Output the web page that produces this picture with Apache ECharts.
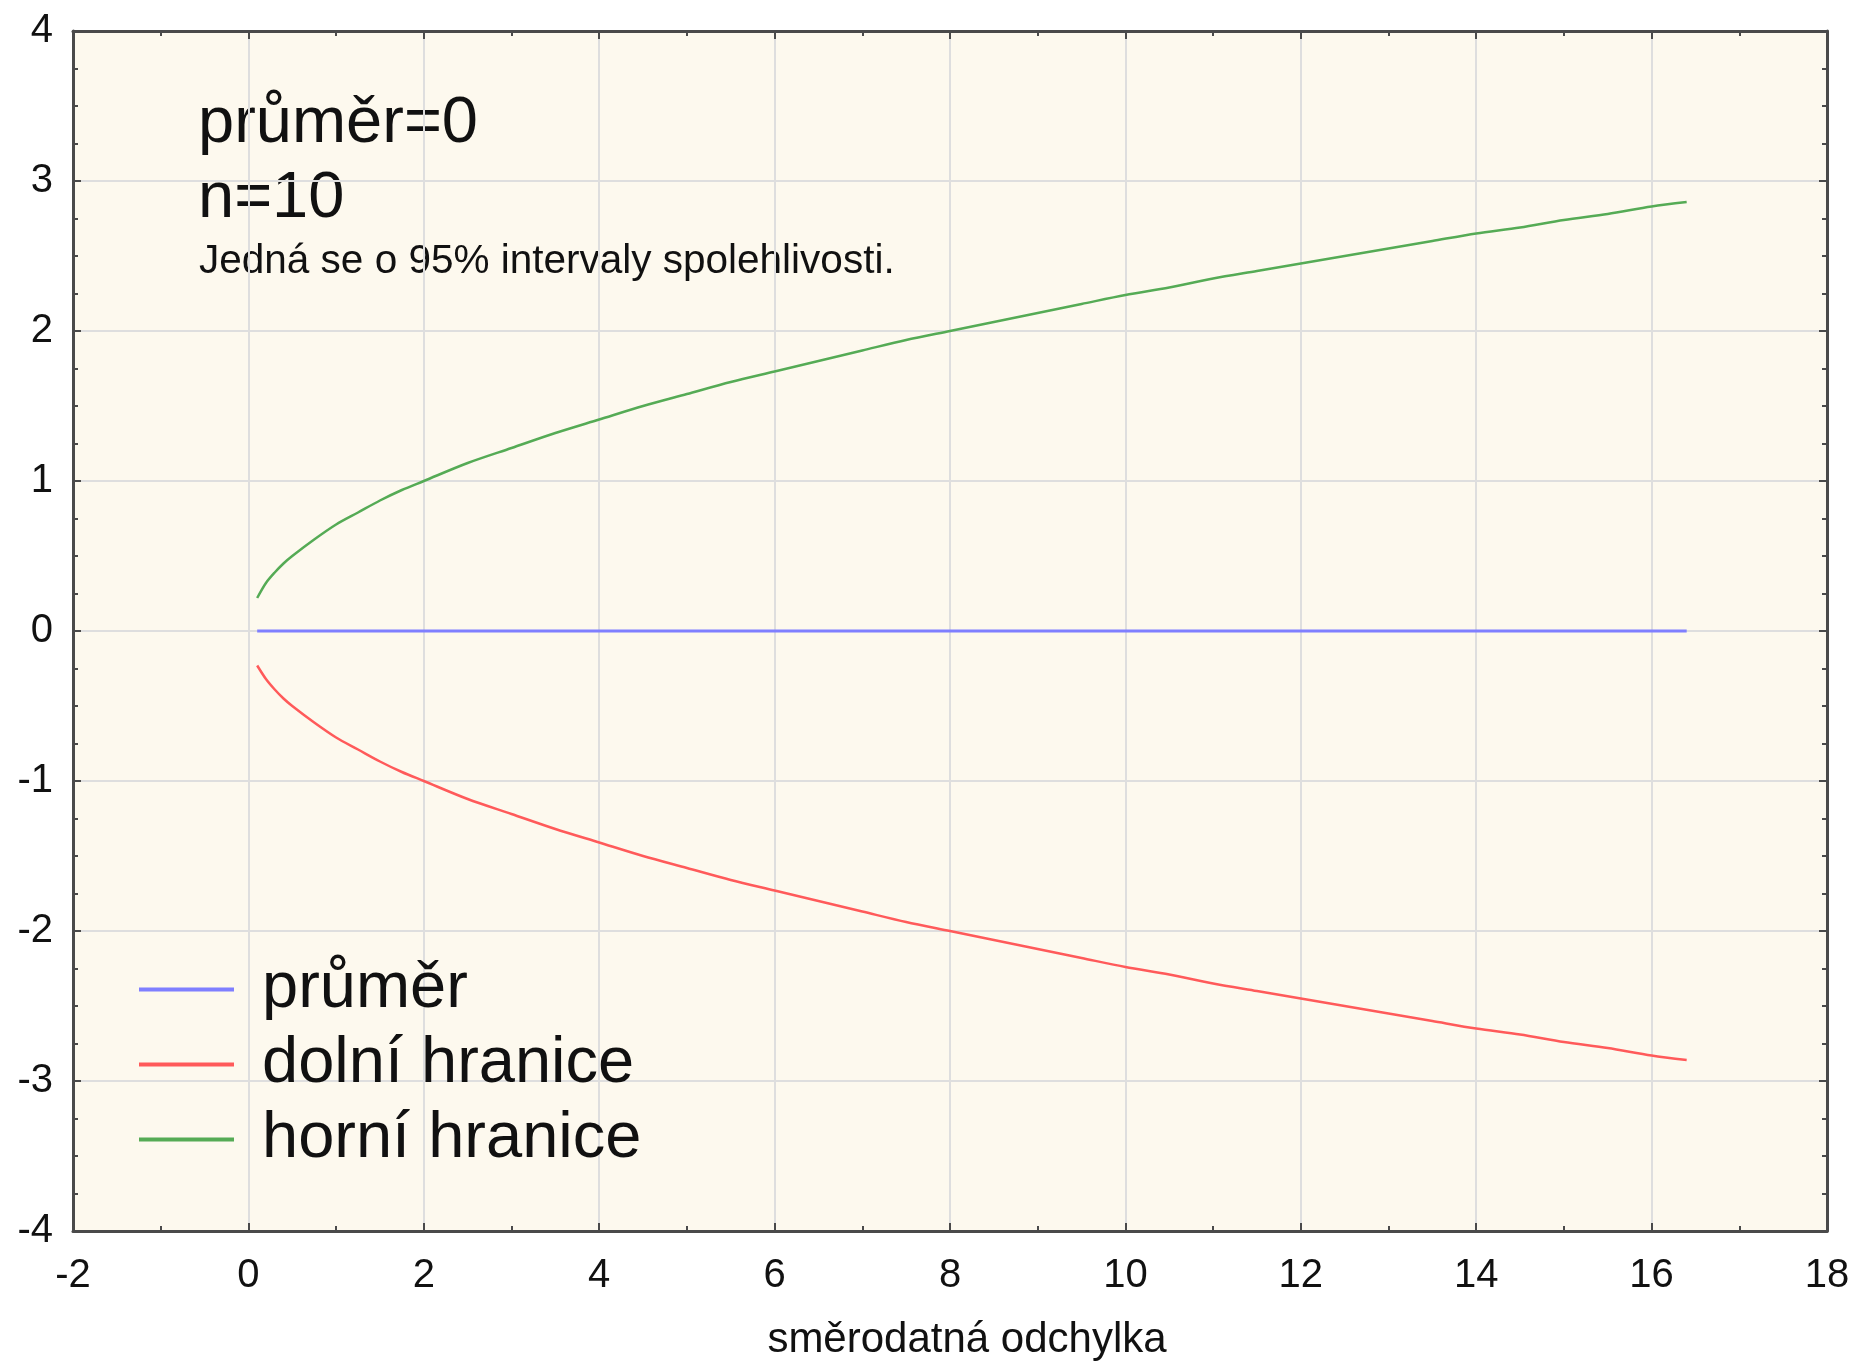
<!DOCTYPE html>
<html>
<head>
<meta charset="utf-8">
<script src="https://cdn.jsdelivr.net/npm/echarts@6/dist/echarts.min.js"></script>
<style>
html,body{margin:0;padding:0;background:#fff;}
#chart{width:1858px;height:1362px;}
</style>
</head>
<body>
<div id="chart"></div>
<script>
// ---- data ----
const xTicks = [-2, 0, 2, 4, 6, 8, 10, 12, 14, 16, 18];
const yTicks = [-4, -3, -2, -1, 0, 1, 2, 3, 4];
const seriesNames = ['průměr', 'dolní hranice', 'horní hranice'];
const xValues = [0.1, 0.2, 0.3, 0.4, 0.5, 0.75, 1, 1.25, 1.5, 1.75, 2, 2.5, 3, 3.5, 4, 4.5, 5, 5.5, 6, 6.5, 7, 7.5, 8, 8.5, 9, 9.5, 10, 10.5, 11, 11.5, 12, 12.5, 13, 13.5, 14, 14.5, 15, 15.5, 16, 16.4];
const meanValues = [0, 0, 0, 0, 0, 0, 0, 0, 0, 0, 0, 0, 0, 0, 0, 0, 0, 0, 0, 0, 0, 0, 0, 0, 0, 0, 0, 0, 0, 0, 0, 0, 0, 0, 0, 0, 0, 0, 0, 0];
const upperValues = [0.22, 0.32, 0.39, 0.45, 0.50, 0.61, 0.71, 0.79, 0.87, 0.94, 1.00, 1.12, 1.22, 1.32, 1.41, 1.50, 1.58, 1.66, 1.73, 1.80, 1.87, 1.94, 2.00, 2.06, 2.12, 2.18, 2.24, 2.29, 2.35, 2.40, 2.45, 2.50, 2.55, 2.60, 2.65, 2.69, 2.74, 2.78, 2.83, 2.86];
const lowerValues = [-0.23, -0.32, -0.39, -0.45, -0.50, -0.61, -0.71, -0.79, -0.87, -0.94, -1.00, -1.12, -1.22, -1.32, -1.41, -1.50, -1.58, -1.66, -1.73, -1.80, -1.87, -1.94, -2.00, -2.06, -2.12, -2.18, -2.24, -2.29, -2.35, -2.40, -2.45, -2.50, -2.55, -2.60, -2.65, -2.69, -2.74, -2.78, -2.83, -2.86];
const annotationLines = ['průměr=0', 'n=10', 'Jedná se o 95% intervaly spolehlivosti.'];
const xAxisTitle = 'směrodatná odchylka';

// ---- styling ----
const FONT = '"Liberation Sans", Arial, Helvetica, sans-serif';
const colors = ['#7f7fff', '#ff5a5a', '#55ab55'];
const frameColor = '#4a4a4a';

const pairs = vals => xValues.map((x, i) => [x, vals[i]]);

function baseX(pos, show) {
  return {
    type: 'value', position: pos,
    min: xTicks[0], max: xTicks[xTicks.length - 1], interval: xTicks[1] - xTicks[0],
    axisLine: { show: true, onZero: false, lineStyle: { color: frameColor, width: 3 } },
    axisTick: { show: true, inside: true, length: 8, lineStyle: { color: frameColor, width: 2 } },
    minorTick: { show: true, splitNumber: 2, length: 5, lineStyle: { color: frameColor, width: 2 } },
    splitLine: { show: show, lineStyle: { color: '#dedede', width: 2 } },
    axisLabel: { show: show, fontSize: 40, fontFamily: FONT, color: '#111', margin: 25 }
  };
}
function baseY(pos, show) {
  return {
    type: 'value', position: pos,
    min: yTicks[0], max: yTicks[yTicks.length - 1], interval: yTicks[1] - yTicks[0],
    axisLine: { show: true, onZero: false, lineStyle: { color: frameColor, width: 3 } },
    axisTick: { show: true, inside: true, length: 8, lineStyle: { color: frameColor, width: 2 } },
    minorTick: { show: true, splitNumber: 4, length: 5, lineStyle: { color: frameColor, width: 2 } },
    splitLine: { show: show, lineStyle: { color: '#dedede', width: 2 } },
    axisLabel: { show: show, fontSize: 40, fontFamily: FONT, color: '#111', margin: 20 }
  };
}

const xMain = baseX('bottom', true);
xMain.name = xAxisTitle;
xMain.nameLocation = 'middle';
xMain.nameGap = 88;
xMain.nameTextStyle = { fontSize: 42, fontFamily: FONT, color: '#111', padding: [0, 0, 0, 34] };

const lineIcon = 'path://M0,0 L100,0 L100,4 L0,4 Z';

const chart = echarts.init(document.getElementById('chart'), null, { renderer: 'canvas' });
chart.setOption({
  backgroundColor: '#ffffff',
  animation: false,
  grid: { left: 73, right: 31, top: 31, bottom: 131, containLabel: false, outerBoundsMode: 'none', show: true, backgroundColor: '#fdf9ee', borderWidth: 0 },
  xAxis: [xMain, baseX('top', false)],
  yAxis: [baseY('left', true), baseY('right', false)],
  legend: {
    orient: 'vertical', left: 134, top: 952,
    itemWidth: 95, itemHeight: 4, itemGap: 10,
    icon: lineIcon,
    data: seriesNames,
    textStyle: { fontSize: 65, fontFamily: FONT, color: '#111', padding: [0, 0, 0, 23] }
  },
  graphic: [
    { type: 'text', left: 198, top: 92, style: { text: annotationLines[0], font: '65px ' + FONT, fill: '#111' } },
    { type: 'text', left: 198, top: 167, style: { text: annotationLines[1], font: '65px ' + FONT, fill: '#111' } },
    { type: 'text', left: 199, top: 241, style: { text: annotationLines[2], font: '40.5px ' + FONT, fill: '#111' } }
  ],
  series: [
    { name: seriesNames[0], type: 'line', data: pairs(meanValues), symbol: 'none', lineStyle: { color: colors[0], width: 3 }, itemStyle: { color: colors[0] } },
    { name: seriesNames[1], type: 'line', data: pairs(lowerValues), symbol: 'none', smooth: 0.3, lineStyle: { color: colors[1], width: 2.5 }, itemStyle: { color: colors[1] } },
    { name: seriesNames[2], type: 'line', data: pairs(upperValues), symbol: 'none', smooth: 0.3, lineStyle: { color: colors[2], width: 2.5 }, itemStyle: { color: colors[2] } }
  ]
});
</script>
</body>
</html>
